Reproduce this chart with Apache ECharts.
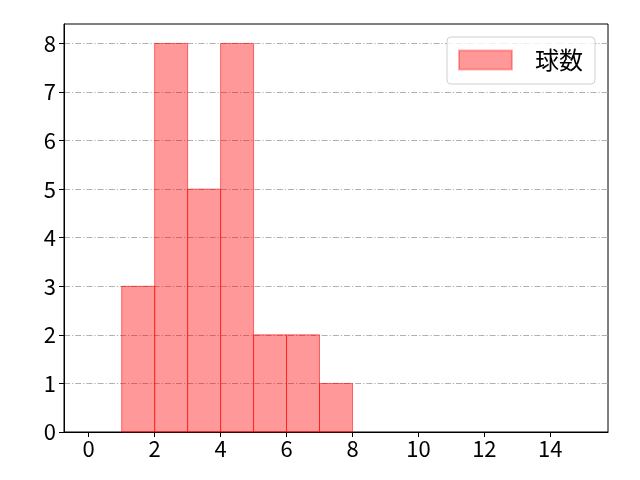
<!DOCTYPE html>
<html>
<head>
<meta charset="utf-8">
<script src="https://cdn.jsdelivr.net/npm/echarts@6/dist/echarts.min.js"></script>
<style>html,body{margin:0;padding:0;background:#fff;}#c{width:640px;height:480px;}</style>
</head>
<body>
<div id="c"></div>
<script>
const binStarts = [1, 2, 3, 4, 5, 6, 7];
const binEnds = [2, 3, 4, 5, 6, 7, 8];
const counts = [3, 8, 5, 8, 2, 2, 1];
const xTicks = [0, 2, 4, 6, 8, 10, 12, 14];
const yTicks = [0, 1, 2, 3, 4, 5, 6, 7, 8];
const seriesName = '球数';

const font = '"Noto Sans CJK JP", "Noto Sans", sans-serif';
const data = binStarts.map((s, i) => [s, binEnds[i], counts[i]]);

const chart = echarts.init(document.getElementById('c'));
chart.setOption({
  animation: false,
  textStyle: {fontFamily: font},
  grid: {left: 64, right: 32, top: 24, bottom: 48, show: true, borderColor: '#000', borderWidth: 1, backgroundColor: 'transparent'},
  legend: {
    show: true,
    right: 45, top: 37,
    orient: 'vertical',
    data: [{name: seriesName, icon: 'rect'}],
    itemWidth: 53, itemHeight: 19,
    itemGap: 22,
    padding: [11, 12, 12, 11],
    borderColor: '#d0d0d0', borderWidth: 1, borderRadius: 4,
    backgroundColor: 'rgba(255,255,255,0.8)',
    textStyle: {fontSize: 24, color: '#000', fontFamily: font, padding: [0, 0, 0, 18]}
  },
  xAxis: {
    type: 'value', min: -0.75, max: 15.75,
    axisLine: {show: true, onZero: false, lineStyle: {color: '#000', width: 1}},
    axisTick: {show: true, length: 5, customValues: xTicks, lineStyle: {color: '#000'}},
    axisLabel: {customValues: xTicks, fontSize: 22, color: '#000', margin: 6, fontFamily: font},
    splitLine: {show: false}
  },
  yAxis: {
    type: 'value', min: 0, max: 8.4, interval: 1,
    axisLine: {show: true, onZero: false, lineStyle: {color: '#000', width: 1}},
    axisTick: {show: true, length: 5, customValues: yTicks, lineStyle: {color: '#000'}},
    axisLabel: {customValues: yTicks, fontSize: 22, color: '#000', margin: 8, fontFamily: font},
    splitLine: {show: true, lineStyle: {color: '#b0b0b0', width: 1, type: [6, 2, 1.2, 2]}}
  },
  series: [{
    name: seriesName,
    type: 'custom',
    data: data,
    encode: {x: [0, 1], y: 2},
    itemStyle: {color: 'rgba(255,0,0,0.4)', borderColor: 'rgba(255,0,0,0.3)', borderWidth: 1},
    renderItem: function (params, api) {
      const p0 = api.coord([api.value(0), api.value(2)]);
      const p1 = api.coord([api.value(1), 0]);
      return {
        type: 'rect',
        shape: {x: p0[0], y: p0[1], width: p1[0] - p0[0], height: p1[1] - p0[1]},
        style: {fill: 'rgba(255,0,0,0.4)', stroke: 'rgba(255,0,0,0.55)', lineWidth: 1}
      };
    }
  }]
});
</script>
</body>
</html>
